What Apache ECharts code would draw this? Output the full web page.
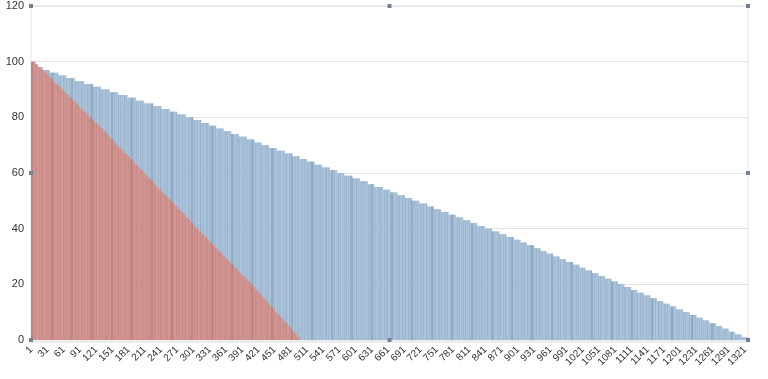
<!DOCTYPE html>
<html>
<head>
<meta charset="utf-8">
<script src="https://cdn.jsdelivr.net/npm/echarts@6/dist/echarts.min.js"></script>
<style>
html,body{margin:0;padding:0;background:#fff;}
#chart{width:768px;height:379px;}
</style>
</head>
<body>
<div id="chart"></div>
<script>
// number of categories on the x axis (labels 1..N)
var categoryCount = 1326;
// y axis ticks
var yTicks = [0, 20, 40, 60, 80, 100, 120];

// Blue series: step levels and how many consecutive categories hold each level
var blueLevels = [99,98,97,96,95,94,93,92,91,90,89,88,87,86,85,84,83,82,81,80,79,78,77,76,75,74,73,72,71,70,69,68,67,66,65,64,63,62,61,60,59,58,57,56,55,54,53,52,51,50,49,48,47,46,45,44,43,42,41,40,39,38,37,36,35,34,33,32,31,30,29,28,27,26,25,24,23,22,21,20,19,18,17,16,15,14,13,12,11,10,9,8,7,6,5,4,3,2,1];
var blueRuns = [10,12,12,
  16,15,16,17,16,15,16,16,17,16,15,17,
  15,15,14,16,
  14,14,15,13,14,14,14,15,14,13,14,14,15,14,13,14,14,14,
  14,14,13,15,14,14,13,15,14,
  13,14,13,14,14,13,13,14,13,14,13,13,14,13,14,13,14,
  12,12,13,12,11,12,12,12,13,12,11,12,12,12,
  12,12,12,12,12,12,12,12,12,12,12,12,13,12,12,12,12,12,12,12,12,12];

// Red series: step levels and run lengths
var redLevels = [100,99,98,97,96,95,94,93,92,91,90,89,88,87,86,85,84,83,82,81,80,79,78,77,76,75,74,73,72,71,70,69,68,67,66,65,64,63,62,61,60,59,58,57,56,55,54,53,52,51,50,49,48,47,46,45,44,43,42,41,40,39,38,37,36,35,34,33,32,31,30,29,28,27,26,25,24,23,22,21,20,19,18,17,16,15,14,13,12,11,10,9,8,7,6,5,4,3,2,1];
var redRuns = [8,
  5,5,6,5,5,5,5,6,5,5,5,5,6,5,5,5,5,6,5,5,5,6,
  5,5,5,5,4,5,5,5,5,5,
  5,5,5,5,5,5,5,4,5,5,
  5,5,5,5,5,5,5,5,5,5,
  5,5,5,5,5,5,4,5,5,5,
  5,5,5,5,5,5,5,5,5,5,
  5,5,5,5,5,5,5,
  5,4,5,5,4,5,4,5,5,4,5,4,5,4,5,5,4,5,4,5];

function expand(levels, runs) {
  var out = [];
  for (var i = 0; i < levels.length; i++) {
    for (var k = 0; k < runs[i]; k++) out.push(levels[i]);
  }
  return out;
}
var categories = [];
for (var i = 1; i <= categoryCount; i++) categories.push(String(i));
var blueData = expand(blueLevels, blueRuns);
var redData = expand(redLevels, redRuns);

function striped(light, dark) {
  return function (p) {
    var i = p.dataIndex;
    return ((i * 7) % 11 < 3 || (i % 37) < 4) ? dark : light;
  };
}

var G = {left: 31, right: 20, top: 6, bottom: 39};
var W = 768, H = 379;
var x0 = G.left, x1 = W - G.right, y0 = G.top, y1 = H - G.bottom;
var xm = (x0 + x1) / 2, ym = (y0 + y1) / 2;
var handlePts = [[x0,y0],[xm,y0],[x1,y0],[x0,ym],[x1,ym],[x0,y1],[xm,y1],[x1,y1]];
var handles = handlePts.map(function(p){
  return {type:'rect', shape:{x:p[0]-2, y:p[1]-2, width:4, height:4}, style:{fill:'#6f8193'}, z:100};
});

var chart = echarts.init(document.getElementById('chart'), null, {renderer:'canvas'});
chart.setOption({
  animation: false,
  backgroundColor: '#ffffff',
  grid: {left: G.left, right: G.right, top: G.top, bottom: G.bottom, show: true, borderColor: '#e2e2e2', borderWidth: 1},
  xAxis: {
    type: 'category',
    data: categories,
    boundaryGap: true,
    axisLine: {show: true, lineStyle: {color: '#d8d8d8'}},
    axisTick: {show: true, interval: 0, length: 3, lineStyle: {color: '#ececec'}},
    axisLabel: {interval: 29, rotate: 45, fontSize: 10, color: '#333', margin: 8, fontFamily: 'Liberation Sans'}
  },
  yAxis: {
    type: 'value',
    min: yTicks[0],
    max: yTicks[yTicks.length - 1],
    interval: yTicks[1] - yTicks[0],
    axisLine: {show: false},
    axisTick: {show: false},
    axisLabel: {fontSize: 11, color: '#333', margin: 7, fontFamily: 'Liberation Sans'},
    splitLine: {lineStyle: {color: '#e2e2e2'}}
  },
  series: [
    {type: 'bar', data: blueData, barGap: '-100%', barCategoryGap: '0%', itemStyle: {color: striped('#a9c3db', '#91abc4')}},
    {type: 'bar', data: redData, barGap: '-100%', barCategoryGap: '0%', itemStyle: {color: striped('#d49692', '#c4837f')}}
  ],
  graphic: handles
});
</script>
</body>
</html>
